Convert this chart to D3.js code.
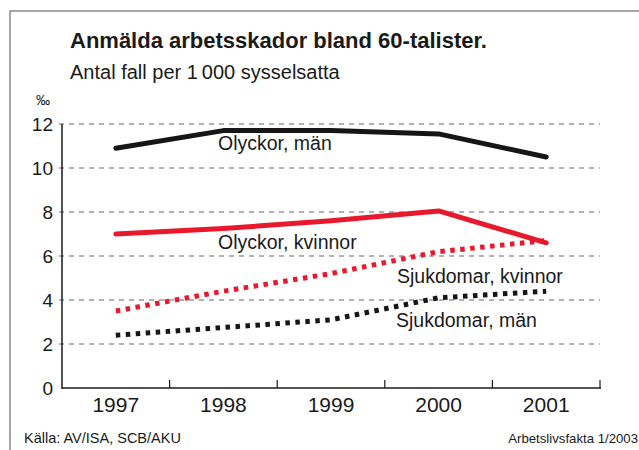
<!DOCTYPE html>
<html>
<head>
<meta charset="utf-8">
<script src="https://cdn.jsdelivr.net/npm/d3@7"></script>
<style>
  body { margin: 0; background: #fff; }
  svg { font-family: "Liberation Sans", Arial, Helvetica, sans-serif; }
</style>
</head>
<body>
<div id="chart"></div>
<script>
// data (per mille)
var years = ["1997", "1998", "1999", "2000", "2001"];
var olyckorMan = [10.9, 11.7, 11.7, 11.55, 10.5];
var olyckorKvinnor = [7.0, 7.25, 7.6, 8.05, 6.6];
var sjukdomarKvinnor = [3.5, 4.4, 5.2, 6.2, 6.7];
var sjukdomarMan = [2.4, 2.75, 3.1, 4.1, 4.4];
var yTicks = [0, 2, 4, 6, 8, 10, 12];

var width = 639, height = 450;

var svg = d3.select("#chart").append("svg")
    .attr("width", width)
    .attr("height", height);

// frame
svg.append("rect")
    .attr("x", 10).attr("y", 11)
    .attr("width", 700).attr("height", 500)
    .attr("fill", "none")
    .attr("stroke", "#777")
    .attr("stroke-width", 1.3);

svg.append("text")
    .attr("x", 70).attr("y", 48)
    .style("font-size", "22px")
    .style("font-weight", "bold")
    .attr("fill", "#1a1a1a")
    .text("Anmälda arbetsskador bland 60-talister.");

svg.append("text")
    .attr("x", 70).attr("y", 79)
    .style("font-size", "20px")
    .attr("fill", "#1a1a1a")
    .text("Antal fall per 1\u2009000 sysselsatta");

svg.append("text")
    .attr("x", 36).attr("y", 105)
    .style("font-size", "14px")
    .attr("fill", "#1a1a1a")
    .text("‰");

var x = d3.scaleBand().domain(years).range([62, 600]);
var y = d3.scaleLinear().domain([0, 12]).range([388, 124]);

// grid
svg.selectAll(".grid")
    .data(yTicks.filter(function (d) { return d > 0; }))
    .enter().append("line")
    .attr("x1", 59).attr("x2", 600)
    .attr("y1", function (d) { return y(d); })
    .attr("y2", function (d) { return y(d); })
    .attr("stroke", "#666")
    .attr("stroke-width", 1)
    .attr("stroke-dasharray", "5,5");

// y labels
svg.selectAll(".ylab")
    .data(yTicks)
    .enter().append("text")
    .attr("x", 53)
    .attr("y", function (d) { return y(d) + 7; })
    .attr("text-anchor", "end")
    .style("font-size", "19px")
    .attr("fill", "#1a1a1a")
    .text(function (d) { return d; });

// axes lines
svg.append("line")
    .attr("x1", 62).attr("x2", 62)
    .attr("y1", y(12)).attr("y2", y(0) + 1)
    .attr("stroke", "#1a1a1a").attr("stroke-width", 1.5);

var xAxis = d3.axisBottom(x).tickSize(0).tickPadding(0);
var gx = svg.append("g")
    .attr("transform", "translate(0," + y(0) + ")")
    .call(xAxis);
gx.select(".domain").remove();
gx.selectAll("text")
    .attr("dy", 0).attr("y", 24)
    .style("font-size", "21px")
    .style("font-family", "'Liberation Sans', Arial, sans-serif")
    .attr("fill", "#1a1a1a");

svg.append("line")
    .attr("x1", 62).attr("x2", 601)
    .attr("y1", y(0)).attr("y2", y(0))
    .attr("stroke", "#1a1a1a").attr("stroke-width", 1.5);

// band boundary ticks pointing up
var bounds = years.slice(1).map(function (d) { return x(d); }).concat([x(years[4]) + x.bandwidth()]);
svg.selectAll(".tick-up")
    .data(bounds)
    .enter().append("line")
    .attr("x1", function (d) { return d; })
    .attr("x2", function (d) { return d; })
    .attr("y1", y(0) - 8).attr("y2", y(0))
    .attr("stroke", "#1a1a1a").attr("stroke-width", 1.2);

var line = d3.line()
    .x(function (d, i) { return x(years[i]) + x.bandwidth() / 2; })
    .y(function (d) { return y(d); });

var series = [
    { values: sjukdomarMan, color: "#161616", dotted: true },
    { values: sjukdomarKvinnor, color: "#e8192c", dotted: true },
    { values: olyckorMan, color: "#161616", dotted: false },
    { values: olyckorKvinnor, color: "#e8192c", dotted: false }
];

series.forEach(function (s) {
    svg.append("path")
        .datum(s.values)
        .attr("d", line)
        .attr("fill", "none")
        .attr("stroke", s.color)
        .attr("stroke-width", 5)
        .attr("stroke-linecap", s.dotted ? "butt" : "round")
        .attr("stroke-linejoin", "round")
        .attr("stroke-dasharray", s.dotted ? "4.5,5.5" : null);
});

// series labels
var labels = [
    { text: "Olyckor, män", x: 218, y: 150 },
    { text: "Olyckor, kvinnor", x: 218, y: 249 },
    { text: "Sjukdomar, kvinnor", x: 397, y: 283 },
    { text: "Sjukdomar, män", x: 396, y: 327 }
];
svg.selectAll(".slab")
    .data(labels)
    .enter().append("text")
    .attr("x", function (d) { return d.x; })
    .attr("y", function (d) { return d.y; })
    .style("font-size", "19.5px")
    .attr("fill", "#1a1a1a")
    .text(function (d) { return d.text; });

// footer
svg.append("text")
    .attr("x", 24).attr("y", 443)
    .style("font-size", "14.5px")
    .attr("fill", "#1a1a1a")
    .text("Källa: AV/ISA, SCB/AKU");

svg.append("text")
    .attr("x", 638).attr("y", 443)
    .attr("text-anchor", "end")
    .style("font-size", "13.2px")
    .attr("fill", "#1a1a1a")
    .text("Arbetslivsfakta 1/2003");
</script>
</body>
</html>
